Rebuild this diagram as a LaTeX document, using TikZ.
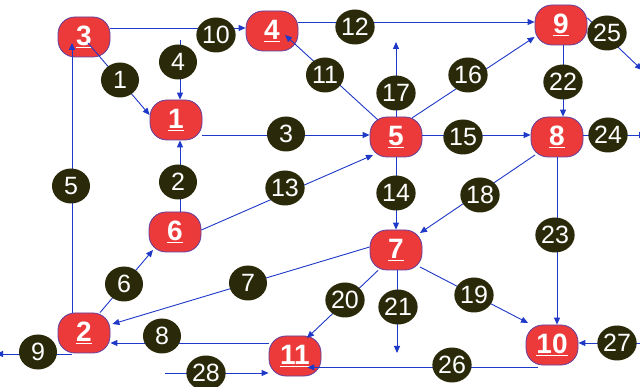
\documentclass[tikz,border=0pt]{standalone}
\usepackage{fontspec}
\setmainfont{Liberation Sans}
\usetikzlibrary{arrows.meta,shapes.geometric}
\definecolor{nodered}{RGB}{236,58,58}
\definecolor{nodeborder}{RGB}{96,64,160}
\definecolor{labfill}{RGB}{42,42,10}
\definecolor{edgeblue}{RGB}{30,56,200}
\tikzset{
  state/.style={rectangle, rounded corners=17pt, fill=nodered, draw=nodeborder, line width=0.8pt,
    minimum width=52pt, minimum height=40pt, inner sep=0pt, text=white,
    font=\fontsize{28}{28}\selectfont\bfseries},
  lab/.style={ellipse, fill=labfill, minimum width=38pt, minimum height=35pt, inner sep=0pt,
    text=white, font=\fontsize{25}{25}\selectfont},
  edge/.style={draw=edgeblue, line width=0.9pt, -{Triangle[length=7pt,width=6pt]}},
  line/.style={draw=edgeblue, line width=0.9pt}
}
\newcommand{\ul}[1]{\underline{#1}}
\begin{document}
\begin{tikzpicture}[x=1pt,y=-1pt]
\clip (0,0) rectangle (640,387);
\fill[white] (0,0) rectangle (640,387);
% states
\node[state] (n3) at (84,37) {\ul{3}};
\node[state] (n4) at (272,31) {\ul{4}};
\node[state] (n1) at (176,120) {\ul{1}};
\node[state] (n9) at (561,25) {\ul{9}};
\node[state] (n5) at (396,137) {\ul{5}};
\node[state] (n8) at (557,137) {\ul{8}};
\node[state] (n6) at (175,232) {\ul{6}};
\node[state] (n2) at (84,333) {\ul{2}};
\node[state] (n11) at (295,356) {\ul{11}};
\node[state] (n7) at (396,250) {\ul{7}};
\node[state] (n10) at (552,345) {\ul{10}};
% free ends
\coordinate (c4) at (180,40);
\coordinate (c9) at (8,354);
\coordinate (c17) at (396,42);
\coordinate (c21) at (397,353);
\coordinate (c24) at (646,135);
\coordinate (c25) at (642,70);
\coordinate (c27) at (640,343);
\coordinate (c28) at (165,373);
% edges
\draw[edge] ([xshift=4pt,yshift=-6pt]n3.center) -- ([yshift=5pt]n1.west);
\draw[edge] ([xshift=5pt]n6.north) -- ([xshift=5pt]n6.north |- n1.south);
\draw[edge] ([yshift=-15pt]n1.east) -- ([yshift=-15pt]n1.east -| n5.west);
\draw[edge] (c4) -- (c4 |- n1.north);
\draw[edge] ([xshift=-12pt]n2.north) -- ([xshift=-12pt,yshift=-6pt]n3.center);
\draw[edge] ([xshift=16pt]n2.north) -- ([xshift=-22pt,yshift=-18pt]n6.center);
\draw[edge] ([yshift=3pt]n7.west) -- ([xshift=2pt,yshift=9pt]n2.east);
\draw[edge] ([yshift=13pt]n11.west) -- ([yshift=13pt]n11.west -| n2.east);
\draw[edge] ([xshift=-12pt,yshift=-21pt]n2.center) -- ([xshift=-12pt,yshift=-21pt]n2.center -| c9);
\draw[edge] ([yshift=9pt]n3.east) -- ([yshift=9pt]n3.east -| n4.west);
\draw[edge] ([xshift=-18pt,yshift=17pt]n5.center) -- ([xshift=13pt,yshift=-4pt]n4.center);
\draw[edge] ([yshift=9pt]n4.east) -- ([yshift=9pt]n4.east -| n9.west);
\draw[edge] ([yshift=2pt]n6.east) -- ([xshift=-23pt,yshift=-18pt]n5.center);
\draw[edge] (n5.south) -- (n7.north);
\draw[edge] ([yshift=2pt]n5.east) -- ([yshift=2pt]n5.east -| n8.west);
\draw[edge] ([xshift=16pt,yshift=19pt]n5.center) -- ([yshift=-12pt]n9.west);
\draw[edge] (n5.north) -- (c17);
\draw[edge] ([xshift=-22pt,yshift=-18pt]n8.center) -- ([xshift=24pt,yshift=17pt]n7.center);
\draw[edge] ([xshift=24pt,yshift=-17pt]n7.center) -- ([xshift=-24pt,yshift=22pt]n10.center);
\draw[edge] ([xshift=-18pt]n7.south) -- ([xshift=12pt,yshift=18pt]n11.center);
\draw[edge] ([xshift=1pt]n7.south) -- (c21);
\draw[edge] ([xshift=2pt]n9.south) -- ([xshift=2pt]n9.south |- n8.north);
\draw[edge] (n8.south) -- (n8.south |- n10.north);
\draw[edge] ([yshift=2pt]n8.east) -- ([yshift=2pt]n8.east -| c24);
\draw[edge] ([yshift=7pt]n9.east) -- (c25);
\draw[edge] ([xshift=-14pt,yshift=-2pt]n10.south) -- ([xshift=-14pt,yshift=-2pt]n10.south -| n11.east);
\draw[edge] (c27) -- (c27 -| n10.east);
\draw[edge] (c28) -- (c28 -| n11.west);
% labels
\node[lab] (l1) at (120,80) {1};
\node[lab] (l2) at (178,182) {2};
\node[lab] (l3) at (286,134) {3};
\node[lab] (l4) at (178,62) {4};
\node[lab] (l5) at (71,186) {5};
\node[lab] (l6) at (124,284) {6};
\node[lab] (l7) at (248,283) {7};
\node[lab] (l8) at (162,336) {8};
\node[lab] (l9) at (38,352) {9};
\node[lab] (l10) at (216,35) {10};
\node[lab] (l11) at (325,75) {11};
\node[lab] (l12) at (355,27) {12};
\node[lab] (l13) at (285,188) {13};
\node[lab] (l14) at (396,193) {14};
\node[lab] (l15) at (463,137) {15};
\node[lab] (l16) at (468,75) {16};
\node[lab] (l17) at (396,93) {17};
\node[lab] (l18) at (480,195) {18};
\node[lab] (l19) at (474,295) {19};
\node[lab] (l20) at (345,300) {20};
\node[lab] (l21) at (398,307) {21};
\node[lab] (l22) at (563,82) {22};
\node[lab] (l23) at (555,235) {23};
\node[lab] (l24) at (608,135) {24};
\node[lab] (l25) at (607,33) {25};
\node[lab] (l26) at (452,365) {26};
\node[lab] (l27) at (617,343) {27};
\node[lab] (l28) at (206,373) {28};
\end{tikzpicture}
\end{document}
